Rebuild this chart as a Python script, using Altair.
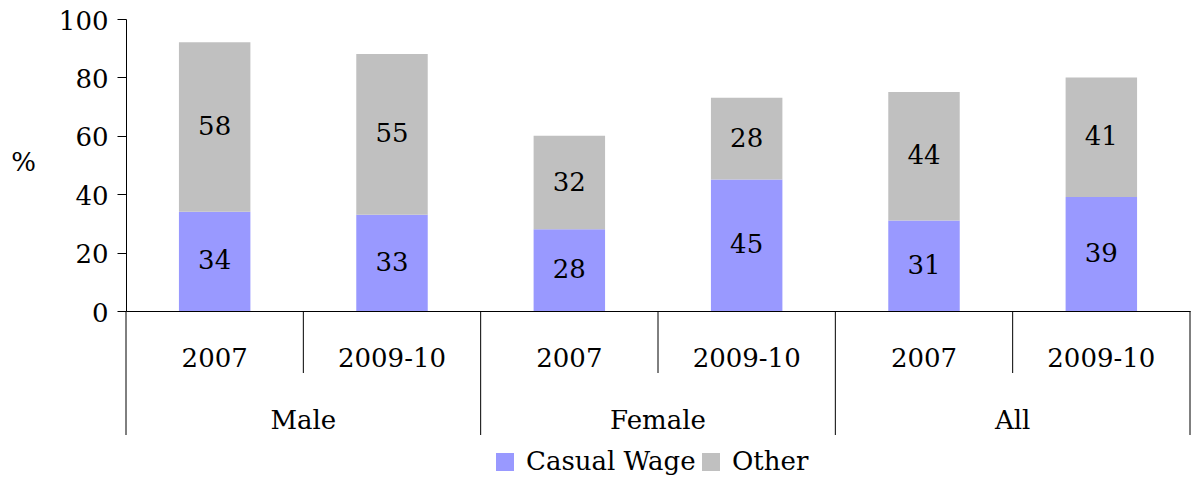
import altair as alt
import pandas as pd

groups = ["Male", "Male", "Female", "Female", "All", "All"]
periods = ["2007", "2009-10", "2007", "2009-10", "2007", "2009-10"]
casual_wage = [34, 33, 28, 45, 31, 39]
other = [58, 55, 32, 28, 44, 41]
series_names = ["Casual Wage", "Other"]
series_colors = ["#9999FF", "#C0C0C0"]
y_ticks = [0, 20, 40, 60, 80, 100]
group_names = ["Male", "Female", "All"]

keys = [f"{g}|{p}" for g, p in zip(groups, periods)]
rows = []
for k, c, o in zip(keys, casual_wage, other):
    rows.append(dict(key=k, series="Casual Wage", value=c, ord=0, mid=c / 2))
    rows.append(dict(key=k, series="Other", value=o, ord=1, mid=c + o / 2))
df = pd.DataFrame(rows)

FONT = "DejaVu Serif"
FS = 26

xscale = alt.Scale(domain=keys, paddingInner=0, paddingOuter=0)
yscale = alt.Scale(domain=[0, 100], nice=False)

x_main = alt.X(
    "key:N", scale=xscale, sort=None, title=None,
    axis=alt.Axis(labelExpr="split(datum.value, '|')[1]", ticks=False,
                  labelPadding=34, labelAngle=0, domainColor="black",
                  labelColor="black", labelFont=FONT, labelFontSize=FS),
)

bars = alt.Chart(df).mark_bar(width=alt.RelativeBandSize(0.403)).encode(
    x=x_main,
    y=alt.Y("value:Q", stack="zero", scale=yscale,
            axis=alt.Axis(values=y_ticks, grid=False, title="%", titleAngle=0,
                          titleX=-103, titleY=143, titleAlign="center",
                          titleBaseline="middle", titleFont=FONT,
                          titleFontSize=FS, titleFontWeight="normal",
                          titleColor="black", tickSize=9, labelPadding=9,
                          labelOffset=2,
                          tickColor="black", domainColor="black",
                          labelColor="black", labelFont=FONT, labelFontSize=FS)),
    color=alt.Color("series:N", scale=alt.Scale(domain=series_names, range=series_colors),
                    legend=alt.Legend(orient="none", legendX=366, legendY=430,
                                      direction="horizontal", title=None,
                                      symbolType="square", symbolSize=324,
                                      symbolStrokeWidth=0, labelFont=FONT,
                                      labelFontSize=FS, labelOffset=8,
                                      labelLimit=400,
                                      columnPadding=2, padding=0,
                                      labelColor="black")),
    order=alt.Order("ord:Q"),
)

labels = alt.Chart(df).mark_text(font=FONT, fontSize=FS, baseline="middle", color="black").encode(
    x=alt.X("key:N", scale=xscale, sort=None),
    y=alt.Y("mid:Q", scale=yscale),
    text=alt.Text("value:Q", format=".0f"),
)

short_df = pd.DataFrame({"key": [keys[0], keys[2], keys[4]]})
short_rules = alt.Chart(short_df).mark_rule(color="black", strokeWidth=1).encode(
    x=alt.X("key:N", scale=xscale, sort=None, bandPosition=1),
    y=alt.value(292), y2=alt.value(354),
)

long_end_df = pd.DataFrame({"key": [keys[1], keys[3], keys[5]]})
long_rules = alt.Chart(long_end_df).mark_rule(color="black", strokeWidth=1).encode(
    x=alt.X("key:N", scale=xscale, sort=None, bandPosition=1),
    y=alt.value(292), y2=alt.value(416),
)
long_start_df = pd.DataFrame({"key": [keys[0]]})
long_start = alt.Chart(long_start_df).mark_rule(color="black", strokeWidth=1).encode(
    x=alt.X("key:N", scale=xscale, sort=None, bandPosition=0),
    y=alt.value(292), y2=alt.value(416),
)

group_df = pd.DataFrame({"key": [keys[0], keys[2], keys[4]], "name": group_names})
group_labels = alt.Chart(group_df).mark_text(font=FONT, fontSize=FS, baseline="alphabetic",
                                             align="center", color="black").encode(
    x=alt.X("key:N", scale=xscale, sort=None, bandPosition=1),
    y=alt.value(410),
    text="name:N",
)

chart = alt.layer(bars, labels, short_rules, long_rules, long_start, group_labels).properties(
    width=1064, height=292,
    autosize=alt.AutoSizeParams(type="none"),
    padding={"left": 118, "top": 11, "right": 1, "bottom": 167},
).configure_view(stroke=None)

chart.save("out.html", embed_options={"renderer": "svg", "actions": False})
